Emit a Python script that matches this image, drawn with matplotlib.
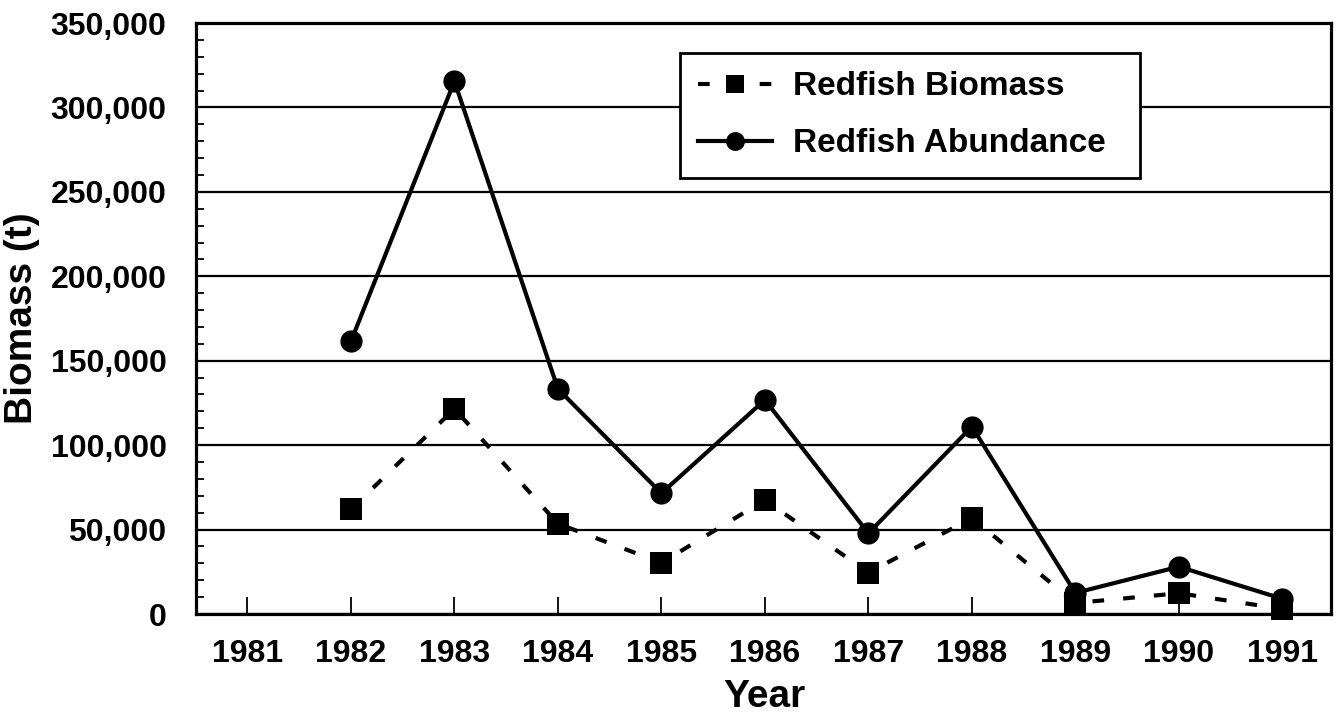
import matplotlib
matplotlib.use("Agg")
import matplotlib.pyplot as plt
from matplotlib.ticker import MultipleLocator, FuncFormatter

years = [1982, 1983, 1984, 1985, 1986, 1987, 1988, 1989, 1990, 1991]
abundance = [161500, 315500, 133300, 71500, 126800, 47800, 111000, 12500, 28000, 9000]
biomass = [62000, 121500, 53500, 30300, 67500, 24500, 56800, 6500, 12300, 3000]
tick_years = [1981, 1982, 1983, 1984, 1985, 1986, 1987, 1988, 1989, 1990, 1991]
label_biomass = "Redfish Biomass"
label_abundance = "Redfish Abundance"
xlabel = "Year"
ylabel = "Biomass (t)"

plt.rcParams['font.family'] = ['Liberation Sans', 'DejaVu Sans']
plt.rcParams['font.weight'] = 'bold'

fig = plt.figure(figsize=(13.42, 7.19), dpi=100)
ax = fig.add_axes([195.7/1342, 1-614/719, (1331-195.7)/1342, (614-23)/719])

ax.set_xlim(1980.5, 1991.47)
ax.set_ylim(0, 350000)

ax.yaxis.set_major_locator(MultipleLocator(50000))
ax.yaxis.set_minor_locator(MultipleLocator(10000))
ax.yaxis.set_major_formatter(FuncFormatter(lambda v, p: f"{int(v):,}"))
ax.set_xticks(tick_years)
ax.set_xticklabels([str(y) for y in tick_years])

ax.grid(axis='y', which='major', color='black', linewidth=1.6, zorder=1)
ax.set_axisbelow(True)

for s in ax.spines.values():
    s.set_linewidth(2.3)
    s.set_zorder(5)

ax.tick_params(axis='x', which='major', direction='in', length=12, width=1.3,
               labelsize=23, pad=18)
ax.tick_params(axis='y', which='major', direction='in', length=6, width=1.3,
               labelsize=23, pad=21)
ax.tick_params(axis='y', which='minor', direction='in', length=6, width=1.3)
for lab in ax.get_xticklabels() + ax.get_yticklabels():
    lab.set_fontweight('bold')

ax.plot(years, biomass, color='black', linewidth=3.0, dashes=(2.8, 4.6),
        marker='s', markersize=15.5, markeredgewidth=0, label=label_biomass,
        zorder=3, clip_on=False)
ax.plot(years, abundance, color='black', linewidth=3.0, linestyle='-',
        marker='o', markersize=16, markeredgewidth=0, label=label_abundance,
        zorder=4, clip_on=False)

ax.set_xlabel(xlabel, fontsize=28, fontweight='bold')
ax.set_ylabel(ylabel, fontsize=28, fontweight='bold')
ax.xaxis.set_label_coords(0.5006, -0.11)
ax.yaxis.set_label_coords(-0.137, 0.5)

x0 = (680-195.7)/1135.3
x1 = (1140-195.7)/1135.3
y1 = (614-53)/591
y0 = (614-185)/591
leg = ax.legend(loc='upper left', bbox_to_anchor=(x0, y0, x1-x0, y1-y0),
                mode='expand', fontsize=24, frameon=True, fancybox=False,
                borderpad=0.55, labelspacing=0.78, handlelength=2.2,
                handletextpad=0.65, markerscale=0.85, borderaxespad=0)
leg.get_frame().set_edgecolor('black')
leg.get_frame().set_linewidth(2.0)
leg.get_frame().set_alpha(1)
leg.set_zorder(6)
for t in leg.get_texts():
    t.set_fontweight('bold')

fig.savefig("out.png", dpi=100)
